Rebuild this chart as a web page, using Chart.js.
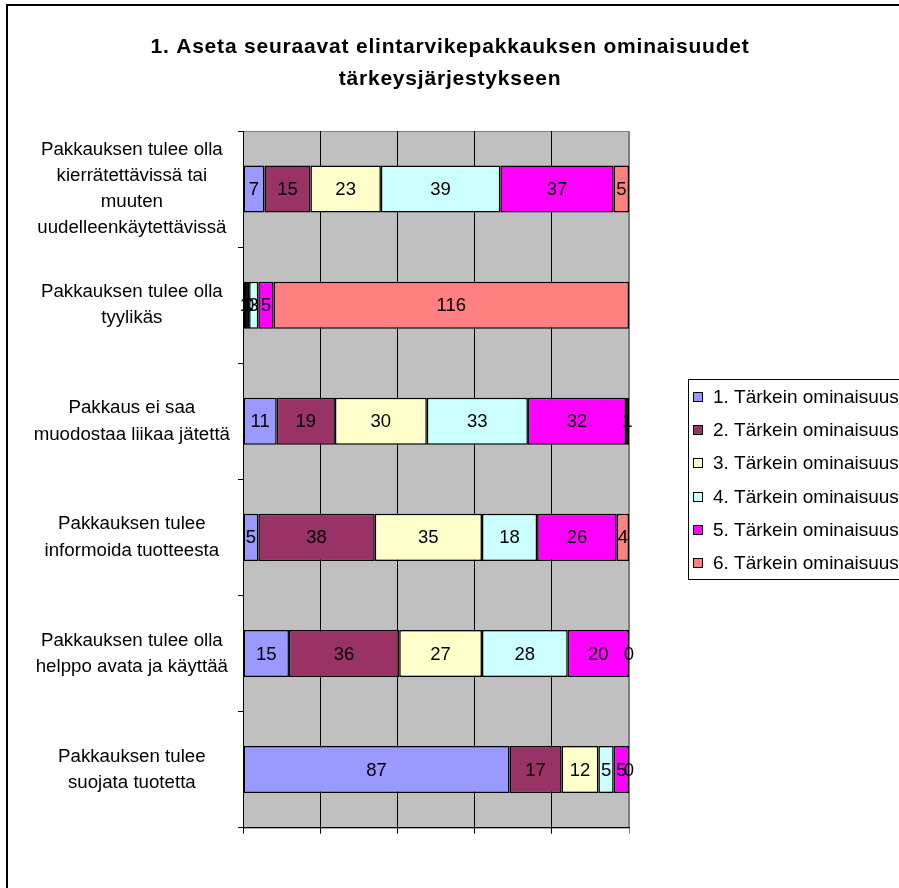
<!DOCTYPE html>
<html>
<head>
<meta charset="utf-8">
<script src="https://cdn.jsdelivr.net/npm/chart.js@4.4.1/dist/chart.umd.min.js"></script>
<style>
  body { margin: 0; background: #fff; }
  canvas { display: block; }
</style>
</head>
<body>
<canvas id="chart" width="899" height="888"></canvas>
<script>
const titleLines = ["1. Aseta seuraavat elintarvikepakkauksen ominaisuudet", "tärkeysjärjestykseen"];

const categories = [
  ["Pakkauksen tulee olla", "kierrätettävissä tai", "muuten", "uudelleenkäytettävissä"],
  ["Pakkauksen tulee olla", "tyylikäs"],
  ["Pakkaus ei saa", "muodostaa liikaa jätettä"],
  ["Pakkauksen tulee", "informoida tuotteesta"],
  ["Pakkauksen tulee olla", "helppo avata ja käyttää"],
  ["Pakkauksen tulee", "suojata tuotetta"]
];

const seriesNames = [
  "1. Tärkein ominaisuus",
  "2. Tärkein ominaisuus",
  "3. Tärkein ominaisuus",
  "4. Tärkein ominaisuus",
  "5. Tärkein ominaisuus",
  "6. Tärkein ominaisuus"
];

// answer counts per category (top to bottom)
const rank1 = [7, 1, 11, 5, 15, 87];
const rank2 = [15, 1, 19, 38, 36, 17];
const rank3 = [23, 0, 30, 35, 27, 12];
const rank4 = [39, 3, 33, 18, 28, 5];
const rank5 = [37, 5, 32, 26, 20, 5];
const rank6 = [5, 116, 1, 4, 0, 0];

const xTicks = [0, 20, 40, 60, 80, 100];

const colors = ["#9999ff", "#993366", "#ffffcc", "#ccffff", "#ff00ff", "#ff8080"];

const series = [rank1, rank2, rank3, rank4, rank5, rank6];
const totals = categories.map((c, i) => series.reduce((s, r) => s + r[i], 0));

const FONT = "'Liberation Sans', Arial, sans-serif";

const frame = {
  id: "frame",
  beforeDraw(chart) {
    const { ctx, chartArea: a } = chart;
    ctx.save();
    ctx.fillStyle = "#c0c0c0";
    ctx.fillRect(a.left, a.top, a.right - a.left, a.bottom - a.top);
    ctx.strokeStyle = "#808080";
    ctx.lineWidth = 1;
    ctx.strokeRect(a.left + 0.5, a.top + 0.5, a.right - a.left - 1, a.bottom - a.top);
    ctx.restore();
  },
  afterDatasetsDraw(chart) {
    const ctx = chart.ctx;
    ctx.save();
    ctx.font = "18.5px " + FONT;
    ctx.fillStyle = "#000";
    ctx.textAlign = "center";
    ctx.textBaseline = "middle";
    chart.data.datasets.forEach((ds, di) => {
      chart.getDatasetMeta(di).data.forEach((bar, i) => {
        ctx.fillText(String(series[di][i]), (bar.x + bar.base) / 2, bar.y + 1);
      });
    });
    ctx.restore();
  },
  afterDraw(chart) {
    const ctx = chart.ctx;
    ctx.save();
    // outer frame
    ctx.strokeStyle = "#000";
    ctx.lineWidth = 2;
    ctx.beginPath();
    ctx.moveTo(7, 888);
    ctx.lineTo(7, 5);
    ctx.lineTo(899, 5);
    ctx.stroke();

    // title
    ctx.fillStyle = "#000";
    ctx.font = "bold 21px " + FONT;
    ctx.letterSpacing = "0.8px";
    ctx.textAlign = "center";
    ctx.textBaseline = "middle";
    titleLines.forEach((t, i) => ctx.fillText(t, 450, 47 + i * 32));
    ctx.letterSpacing = "0px";

    // legend
    ctx.lineWidth = 1;
    ctx.strokeRect(688.5, 379.5, 230, 200);
    ctx.font = "19px " + FONT;
    ctx.textAlign = "left";
    seriesNames.forEach((name, i) => {
      const y = Math.round(397 + i * 33.2);
      ctx.fillStyle = colors[i];
      ctx.fillRect(693, y - 5, 9, 9);
      ctx.strokeStyle = "#000";
      ctx.strokeRect(693.5, y - 4.5, 9, 9);
      ctx.fillStyle = "#000";
      ctx.fillText(name, 713, y + 1);
    });
    ctx.restore();
  }
};

new Chart(document.getElementById("chart"), {
  type: "bar",
  data: {
    labels: categories,
    datasets: series.map((r, i) => ({
      label: seriesNames[i],
      data: r.map((v, j) => v / totals[j] * 100),
      backgroundColor: colors[i],
      borderColor: "#000",
      borderWidth: 1.5,
      borderSkipped: false,
      barPercentage: 0.405,
      categoryPercentage: 1
    }))
  },
  options: {
    indexAxis: "y",
    responsive: false,
    animation: false,
    devicePixelRatio: 1,
    layout: { padding: { left: 0, top: 131, right: 270, bottom: 0 } },
    plugins: {
      legend: { display: false },
      title: { display: false },
      tooltip: { enabled: false }
    },
    scales: {
      x: {
        stacked: true,
        min: 0,
        max: 100,
        afterBuildTicks: s => { s.ticks = xTicks.map(v => ({ value: v })); },
        afterFit: s => { s.height = 53; },
        ticks: { display: false },
        grid: {
          color: c => (c.tick && c.tick.value === 100 ? "#808080" : "#000"),
          lineWidth: 1,
          tickLength: 6
        },
        border: { color: "#000" }
      },
      y: {
        stacked: true,
        afterFit: s => { s.width = 243; },
        ticks: {
          color: "#000",
          font: { family: FONT, size: 18.7, lineHeight: 1.4 },
          crossAlign: "center",
          padding: 8
        },
        grid: { drawOnChartArea: false, color: "#000", tickLength: 5 },
        border: { color: "#000" }
      }
    }
  },
  plugins: [frame]
});
</script>
</body>
</html>
